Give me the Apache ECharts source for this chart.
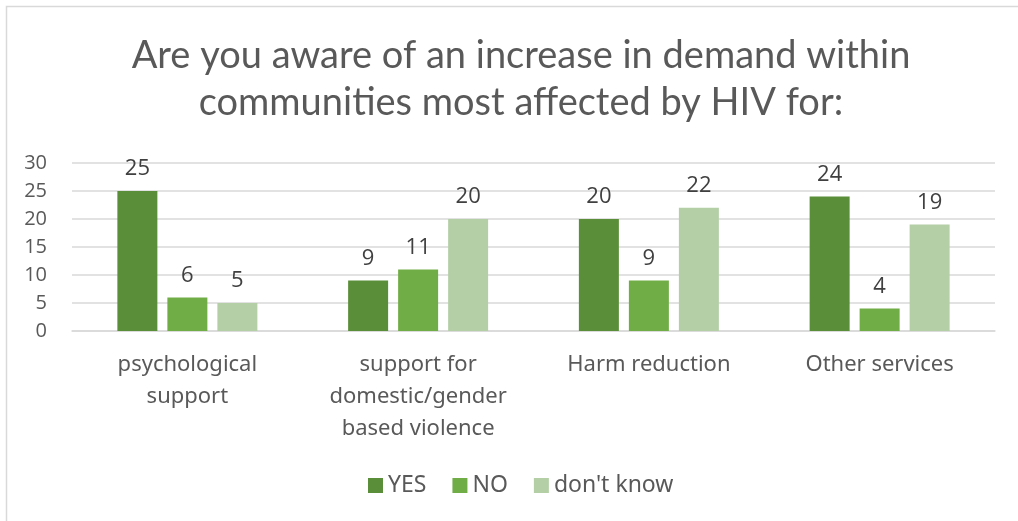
<!DOCTYPE html>
<html>
<head>
<meta charset="utf-8">
<script src="https://cdn.jsdelivr.net/npm/echarts@6/dist/echarts.min.js"></script>
<style>
  html, body { margin: 0; padding: 0; background: #fff; }
  #chart { width: 1018px; height: 521px; }
</style>
</head>
<body>
<div id="chart"></div>
<script>
// Survey responses per service type
const categories = [
  'psychological\nsupport',
  'support for\ndomestic/gender\nbased violence',
  'Harm reduction',
  'Other services'
];
const yesValues = [25, 9, 20, 24];
const noValues = [6, 11, 9, 4];
const dontKnowValues = [5, 20, 22, 19];
const seriesNames = ['YES', 'NO', "don't know"];
const yTicks = [0, 5, 10, 15, 20, 25, 30];

const colors = ['#5b8e39', '#70ad47', '#b4cfa5'];
const textGrey = '#595959';

const chart = echarts.init(document.getElementById('chart'));

function barSeries(name, data, color) {
  return {
    name: name,
    type: 'bar',
    data: data,
    barWidth: 40,
    barGap: '25%',
    itemStyle: { color: color },
    label: {
      show: true,
      position: 'top',
      distance: 11,
      color: '#404040',
      fontSize: 22,
      fontFamily: 'Open Sans'
    }
  };
}

chart.setOption({
  animation: false,
  backgroundColor: '#fff',
  title: {
    text: 'Are you aware of an increase in demand within\ncommunities most affected by HIV for:',
    left: 516,
    textAlign: 'center',
    top: 27,
    textStyle: {
      color: textGrey,
      fontSize: 38,
      fontWeight: 'normal',
      fontFamily: 'Lato',
      lineHeight: 47
    }
  },
  legend: {
    bottom: 19,
    left: 363,
    itemWidth: 15,
    itemHeight: 15,
    itemGap: 26,
    icon: 'rect',
    textStyle: { color: textGrey, fontSize: 23, fontFamily: 'Noto Sans' },
    data: seriesNames
  },
  grid: {
    left: 72,
    right: 23,
    top: 163,
    bottom: 190,
    containLabel: false
  },
  xAxis: {
    type: 'category',
    data: categories,
    axisLine: { show: true, lineStyle: { color: '#d9d9d9', width: 1.5 } },
    axisTick: { show: false },
    axisLabel: {
      color: textGrey,
      fontSize: 22,
      fontFamily: 'Noto Sans',
      lineHeight: 32,
      margin: 18,
      interval: 0
    }
  },
  yAxis: {
    type: 'value',
    min: yTicks[0],
    max: yTicks[yTicks.length - 1],
    interval: 5,
    axisLine: { show: false },
    axisTick: { show: false },
    splitLine: { lineStyle: { color: '#d9d9d9', width: 1.5 } },
    axisLabel: {
      color: textGrey,
      fontSize: 20,
      fontFamily: 'Open Sans',
      margin: 25,
      align: 'right'
    }
  },
  series: [
    barSeries(seriesNames[0], yesValues, colors[0]),
    barSeries(seriesNames[1], noValues, colors[1]),
    barSeries(seriesNames[2], dontKnowValues, colors[2])
  ],
  graphic: [
    {
      type: 'polyline',
      shape: { points: [[6.5, 521], [6.5, 6.5], [1018, 6.5]] },
      style: { stroke: '#d9d9d9', lineWidth: 1.5, fill: null },
      silent: true
    }
  ]
});
</script>
</body>
</html>
